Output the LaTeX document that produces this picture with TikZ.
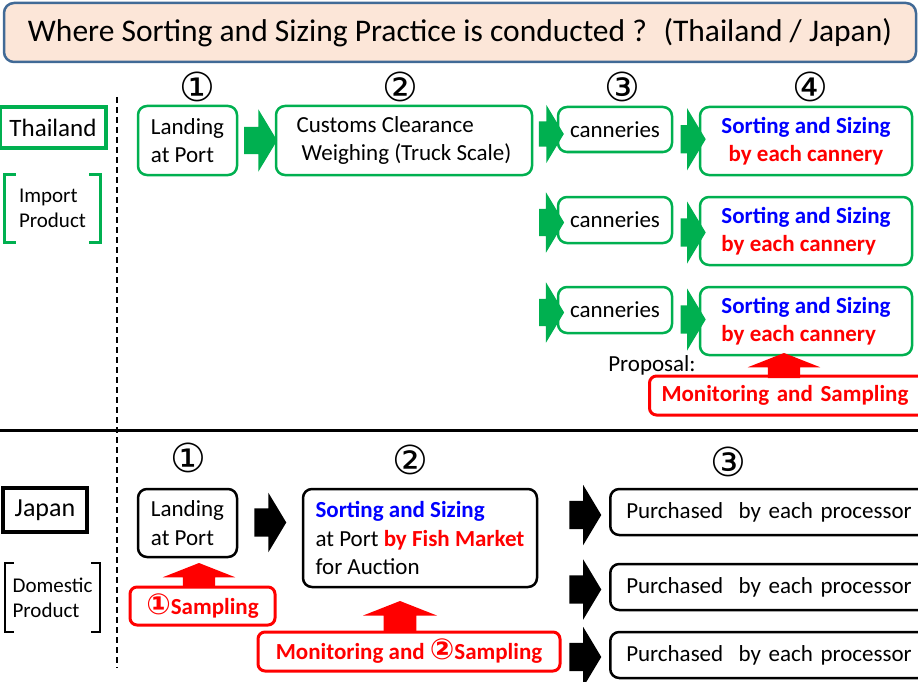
\documentclass[tikz,border=0pt]{standalone}
\usepackage{fontspec}
\setmainfont{Carlito}
\newfontfamily\circfont{DejaVu Sans}
\newfontfamily\titlefont{Carlito}
\usetikzlibrary{calc,positioning,shapes.arrows}

\definecolor{thgreen}{RGB}{0,176,80}
\definecolor{mred}{RGB}{255,0,0}
\definecolor{sblue}{RGB}{0,0,255}
\definecolor{titlefill}{RGB}{252,230,216}
\definecolor{titleline}{RGB}{65,106,150}

\newcommand{\cnum}[1]{{\circfont\fontsize{29}{28}\selectfont #1}}
\newcommand{\sortsize}{\textcolor{sblue}{\bfseries Sorting and Sizing}}

\begin{document}
\begin{tikzpicture}[x=1pt,y=-1pt,
  font=\fontsize{23}{28.5}\selectfont,
  gbox/.style={draw=thgreen, line width=2.5pt, rounded corners=9pt, inner sep=0pt, align=center},
  kbox/.style={draw, line width=2.5pt, rounded corners=9pt, inner sep=0pt, align=left},
  rbox/.style={draw=mred, line width=3pt, rounded corners=7pt, fill=white, text=mred,
    font=\fontsize{23}{28}\selectfont\bfseries, inner sep=0pt},
  numlabel/.style={font=\circfont\fontsize{40}{40}\selectfont},
  garrow/.style={single arrow, fill=thgreen, inner xsep=0pt, inner ysep=13.5pt, outer sep=0pt,
    minimum height=25pt, minimum width=60pt, single arrow head extend=16.5pt, single arrow tip angle=118},
  karrow/.style={single arrow, fill=black, inner xsep=0pt, inner ysep=14pt, outer sep=0pt,
    minimum height=32pt, minimum width=60pt, single arrow head extend=16pt, single arrow tip angle=118},
  uarrow/.style={single arrow, shape border rotate=90, fill=mred, inner xsep=16pt, inner ysep=0pt, outer sep=0pt,
    minimum width=72pt, single arrow head extend=20pt, single arrow tip angle=137},
  ]
  \useasboundingbox (0,0) rectangle (918,682);
  \clip (0,0) rectangle (918,682);

  \node (Title) [draw=titleline, fill=titlefill, line width=2.5pt, rounded corners=10pt,
    minimum width=912pt, minimum height=59pt, font=\titlefont\fontsize{31.5}{32}\selectfont]
    at (460,32.5) {Where Sorting and Sizing Practice is conducted ? \ (Thailand / Japan)};

  % separators
  \draw[line width=3pt] (0,430) -- (918,430);
  \draw[line width=2pt, dash pattern=on 6pt off 4pt] (117,97) -- (117,668);

  % ---- Thailand ----
  \node (Thailand) [draw=thgreen, line width=4pt, minimum width=106pt, minimum height=41pt,
    font=\fontsize{25}{28}\selectfont] at (53,127.5) {Thailand};
  \node (Import) [minimum width=95pt, minimum height=67pt, align=left,
    font=\fontsize{21}{25}\selectfont] at (52.5,208.5) {Import\\Product};
  \draw[thgreen, line width=3pt] ([xshift=11pt]Import.north west) -- (Import.north west)
    -- (Import.south west) -- ([xshift=11pt]Import.south west);
  \draw[thgreen, line width=3pt] ([xshift=-11pt]Import.north east) -- (Import.north east)
    -- (Import.south east) -- ([xshift=-11pt]Import.south east);

  \node (ThNum1) [numlabel] at (197,87) {①};
  \node (ThNum2) [numlabel] at (400,87) {②};
  \node (ThNum3) [numlabel] at (622,87) {③};
  \node (ThNum4) [numlabel] at (810,87) {④};

  \node (ThLanding) [gbox, minimum width=99pt, minimum height=69pt, align=left] at (187.5,140.5) {Landing\\at Port};
  \node (ThCustoms) [gbox, minimum width=256pt, minimum height=69pt, align=left] at (404,140.5)
    {Customs Clearance\\\hspace*{5pt}Weighing (Truck Scale)};
  \node (ThCan1) [gbox, minimum width=114pt, minimum height=45pt] at (615,129.5) {canneries};
  \node (ThCan2) [gbox, minimum width=114pt, minimum height=46pt] at (615,220) {canneries};
  \node (ThCan3) [gbox, minimum width=114pt, minimum height=46pt] at (615,310) {canneries};
  \node (ThSort1) [gbox, minimum width=212pt, minimum height=68pt] at (806,141)
    {\sortsize\\\textcolor{mred}{\bfseries by each cannery}};
  \node (ThSort2) [gbox, minimum width=212pt, minimum height=68pt, align=left] at (806,231)
    {\sortsize\\\textcolor{mred}{\bfseries by each cannery}};
  \node (ThSort3) [gbox, minimum width=212pt, minimum height=68pt, align=left] at (806,321)
    {\sortsize\\\textcolor{mred}{\bfseries by each cannery}};

  \node (ThArr1) [garrow, minimum height=33pt, minimum width=62pt, single arrow head extend=17.5pt]
    at ($(ThLanding.east)!.5!(ThCustoms.west)$) {};
  \node (ThArr2) [garrow, minimum width=58pt, inner ysep=12.5pt] at (547.5,134) {};
  \node (ThArr3) [garrow] at (547.5,222.5) {};
  \node (ThArr4) [garrow] at (547.5,312.5) {};
  \node (ThArr5) [garrow, minimum width=62pt] at ($(ThCan1.east)!.5!(ThSort1.west)+(3,4)$) {};
  \node (ThArr6) [garrow, minimum width=62pt] at ($(ThCan2.east)!.5!(ThSort2.west)+(3,7)$) {};
  \node (ThArr7) [garrow, minimum width=62pt] at ($(ThCan3.east)!.5!(ThSort3.west)+(3,4)$) {};

  \node (Proposal) at (652,365) {Proposal:};
  \node (ThMon) [rbox, anchor=west, minimum height=39pt, text width=280pt, inner xsep=12pt, align=left]
    at (648,395.5) {Monitoring and Sampling};
  \node (ThUp) [uarrow, minimum height=25pt, anchor=tail] at (784,378) {};

  % ---- Japan ----
  \node (Japan) [draw, line width=4pt, minimum width=84pt, minimum height=44pt,
    font=\fontsize{26}{28}\selectfont] at (45,510) {Japan};
  \node (Domestic) [minimum width=95pt, minimum height=69pt, align=left,
    font=\fontsize{21}{25}\selectfont] at (52.5,597.5) {Domestic\\Product};
  \draw[line width=2.5pt] ([xshift=9pt]Domestic.north west) -- (Domestic.north west)
    -- (Domestic.south west) -- ([xshift=9pt]Domestic.south west);
  \draw[line width=2.5pt] ([xshift=-9pt]Domestic.north east) -- (Domestic.north east)
    -- (Domestic.south east) -- ([xshift=-9pt]Domestic.south east);

  \node (JpNum1) [numlabel] at (188,458) {①};
  \node (JpNum2) [numlabel] at (410,460) {②};
  \node (JpNum3) [numlabel] at (728,462) {③};

  \node (JpLanding) [kbox, minimum width=99pt, minimum height=68pt] at (187.5,523) {Landing\\at Port};
  \node (JpSort) [kbox, minimum width=234pt, minimum height=98pt] at (420,538)
    {\sortsize\\at Port \textcolor{mred}{\bfseries by Fish Market}\\for Auction};
  \foreach \i/\y in {1/512,2/587,3/655}{
    \node (JpBuy\i) [kbox, anchor=west, minimum height=46pt, text width=300pt, inner xsep=16pt]
      at (609,\y) {Purchased \ by each processor};
  }

  \node (JpArr1) [karrow, minimum width=59pt, single arrow head extend=15.5pt] at (266,522.5) {};
  \node (JpArr2) [karrow] at (581,515) {};
  \node (JpArr3) [karrow, minimum width=59pt] at (581,589.5) {};
  \node (JpArr4) [karrow] at (581,657) {};

  \node (JpSamp) [rbox, minimum width=145pt, minimum height=38pt] at (202.5,606)
    {\cnum{①}Sampling};
  \node (JpMon) [rbox, minimum width=302pt, minimum height=39pt] at (409,651.5)
    {Monitoring and \cnum{②}Sampling};
  \node (JpUp1) [uarrow, minimum height=24pt, anchor=tail] at (199,587) {};
  \node (JpUp2) [uarrow, minimum height=31pt, minimum width=74pt, single arrow head extend=20.5pt,
    anchor=tail] at (400,632) {};
\end{tikzpicture}
\end{document}
